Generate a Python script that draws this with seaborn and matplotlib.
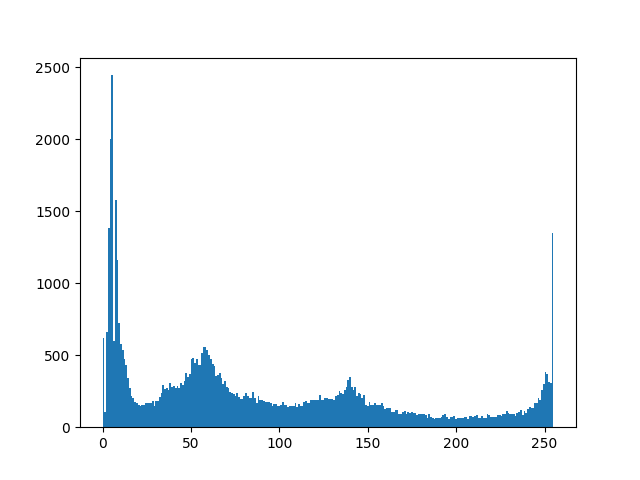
import numpy as np
import matplotlib
matplotlib.use("Agg")
import matplotlib.pyplot as plt
import seaborn as sns

# pixel intensity levels 0..255 and their counts
levels = np.arange(256)

counts_0_21 = [620, 105, 660, 1384, 2000, 2444, 597, 1576, 1160, 722, 576, 535,
               472, 430, 340, 270, 215, 200, 175, 165, 155, 150]
counts_22_77 = [153, 153, 167, 167, 167, 167, 180, 145, 180, 180, 208, 236, 292, 264,
                271, 257, 306, 278, 285, 271, 285, 271, 306, 292, 320, 375, 347, 368,
                472, 479, 444, 472, 430, 430, 514, 556, 556, 535, 500, 472, 437, 423,
                354, 361, 375, 340, 299, 320, 278, 271, 243, 236, 229, 215, 236, 208]
counts_78_131 = [194, 194, 215, 236, 215, 201, 201, 243, 201, 167, 215, 188, 188, 181,
                 174, 174, 174, 167, 146, 160, 160, 146, 146, 153, 174, 153, 153, 139,
                 146, 146, 146, 167, 139, 160, 146, 146, 174, 181, 167, 167, 188, 188,
                 188, 188, 188, 222, 188, 188, 201, 201, 194, 194, 194, 188]
counts_132_185 = [215, 222, 250, 236, 229, 257, 280, 326, 347, 278, 257, 278, 215, 236,
                  229, 201, 222, 153, 146, 174, 153, 153, 167, 153, 153, 153, 167, 146,
                  125, 132, 132, 132, 104, 104, 118, 118, 90, 90, 104, 111, 90, 104,
                  97, 104, 97, 97, 83, 90, 90, 90, 90, 83, 62, 90]
counts_186_221 = [69, 62, 55, 62, 62, 62, 69, 83, 90, 69, 55, 69, 69, 76, 55, 62, 62, 62,
                  62, 69, 69, 55, 76, 76, 69, 76, 83, 62, 62, 76, 62, 62, 90, 83, 69, 69]
counts_222_255 = [69, 69, 83, 83, 76, 90, 90, 111, 97, 90, 90, 90, 76, 97, 104, 118, 83,
                  111, 97, 125, 139, 132, 132, 167, 167, 201, 188, 257, 299, 382, 368,
                  313, 306, 1347]

counts = np.array(counts_0_21 + counts_22_77 + counts_78_131 + counts_132_185
                  + counts_186_221 + counts_222_255)

fig, ax = plt.subplots(figsize=(6.4, 4.8), dpi=100)
sns.histplot(x=levels, weights=counts, bins=256, binrange=(0, 255),
             color='#1f77b4', alpha=1, linewidth=0, ax=ax)
ax.set_xlabel('')
ax.set_ylabel('')

plt.savefig("out.png", dpi=100)
